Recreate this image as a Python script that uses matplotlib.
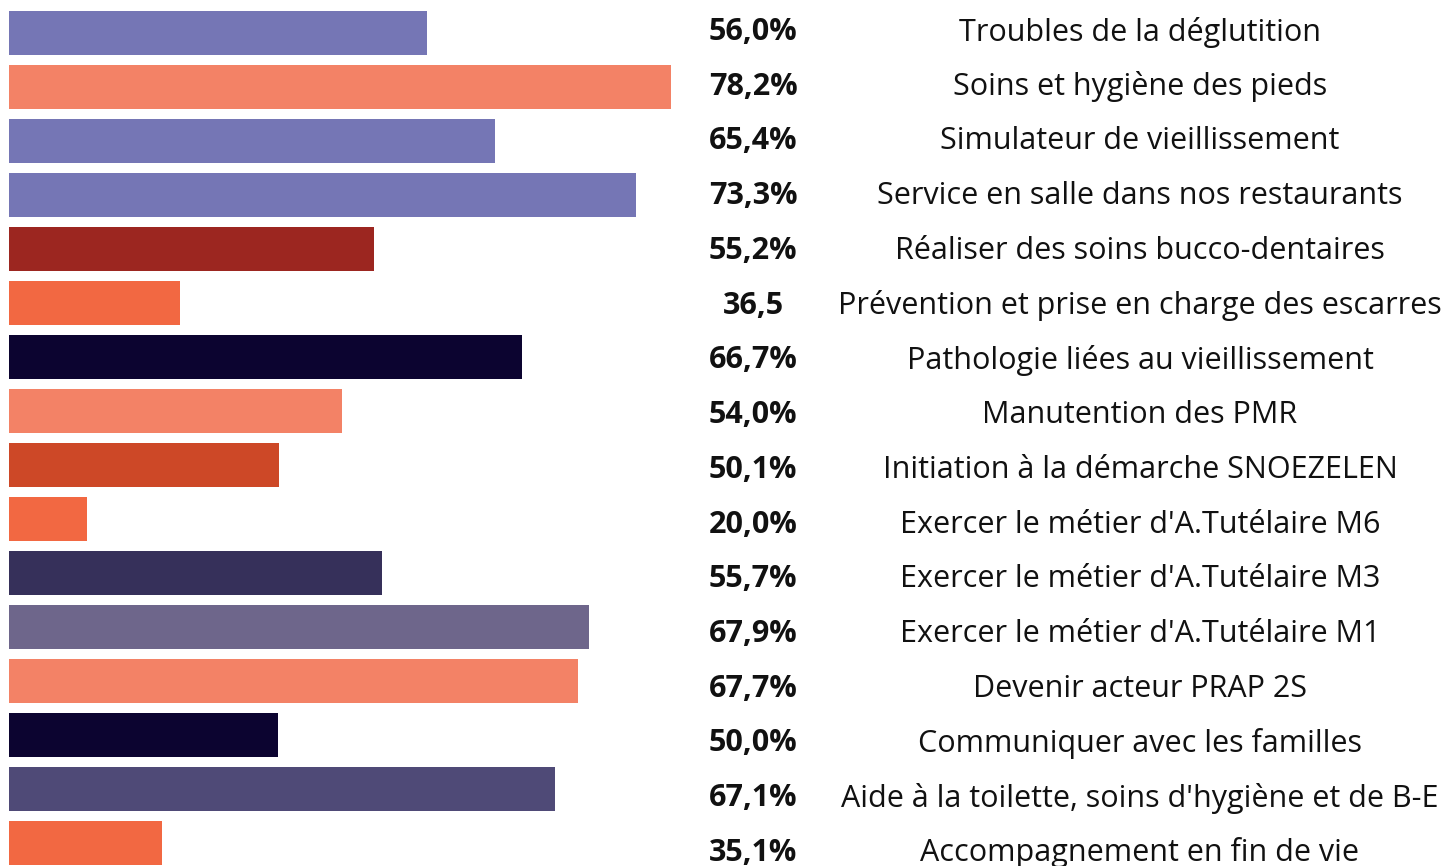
import matplotlib
matplotlib.use("Agg")
import matplotlib.pyplot as plt
import numpy as np

categories = [
    "Troubles de la déglutition",
    "Soins et hygiène des pieds",
    "Simulateur de vieillissement",
    "Service en salle dans nos restaurants",
    "Réaliser des soins bucco-dentaires",
    "Prévention et prise en charge des escarres",
    "Pathologie liées au vieillissement",
    "Manutention des PMR",
    "Initiation à la démarche SNOEZELEN",
    "Exercer le métier d'A.Tutélaire M6",
    "Exercer le métier d'A.Tutélaire M3",
    "Exercer le métier d'A.Tutélaire M1",
    "Devenir acteur PRAP 2S",
    "Communiquer avec les familles",
    "Aide à la toilette, soins d'hygiène et de B-E",
    "Accompagnement en fin de vie",
]
value_labels = ["56,0%", "78,2%", "65,4%", "73,3%", "55,2%", "36,5", "66,7%", "54,0%",
                "50,1%", "20,0%", "55,7%", "67,9%", "67,7%", "50,0%", "67,1%", "35,1%"]
bar_lengths = [41.8, 66.2, 48.6, 62.7, 36.5, 17.1, 51.3, 33.3,
               27.0, 7.8, 37.3, 58.0, 56.9, 26.9, 54.6, 15.3]
bar_colors = ["#7576B5", "#F38266", "#7576B5", "#7576B5", "#9C2620", "#F26842",
              "#0C0430", "#F38266", "#CD4827", "#F26842", "#36305A", "#6E668B",
              "#F38266", "#0C0430", "#4F4A77", "#F26842"]

W, H = 1448, 866
fig = plt.figure(figsize=(W / 100, H / 100), dpi=100)
ax = fig.add_axes([0, 0, 1, 1])
n = len(categories)
y = np.arange(n)
pitch = 54.0
first_center = 33.0
ax.set_ylim((H - first_center) / pitch, -first_center / pitch)
ax.set_xlim(-0.9, (W - 9) / 10.0)
ax.barh(y, bar_lengths, height=44.5 / pitch, color=bar_colors, left=0)
ax.axis("off")

# text rows slightly spread relative to bars
text_pitch = 54.73 / pitch
text_first = (32 - first_center) / pitch
x_pct = (753 - 9) / 10.0
x_lab = (1140 - 9) / 10.0
for i in range(n):
    ty = text_first + i * text_pitch
    ax.text(x_pct, ty, value_labels[i], ha="center", va="center", fontsize=22,
            fontweight="bold", family="Open Sans", color="#111111")
    ax.text(x_lab, ty, categories[i], ha="center", va="center", fontsize=22,
            family="Open Sans", color="#111111")

fig.savefig("out.png", dpi=100, facecolor="white")
